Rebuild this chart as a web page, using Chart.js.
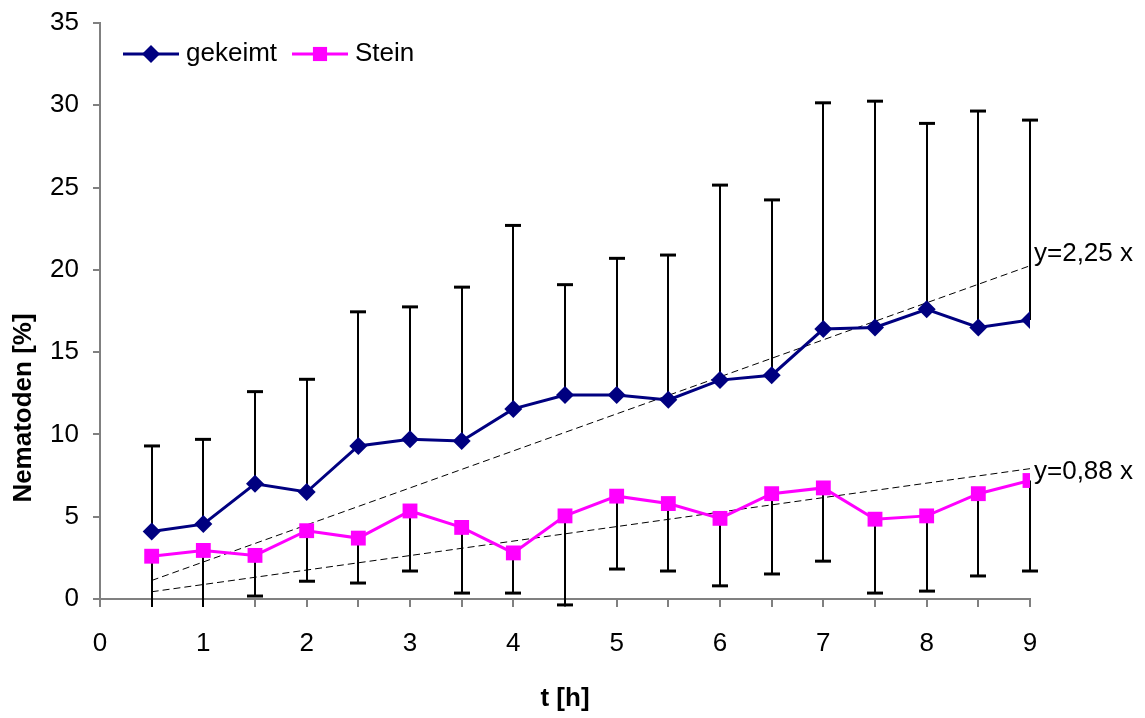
<!DOCTYPE html>
<html>
<head>
<meta charset="utf-8">
<script src="https://cdn.jsdelivr.net/npm/chart.js@4.4.0/dist/chart.umd.min.js"></script>
<style>
  html, body { margin: 0; padding: 0; background: #fff; }
  #wrap { width: 1145px; height: 718px; }
</style>
</head>
<body>
<div id="wrap"><canvas id="chart" width="1145" height="718"></canvas></div>
<script>
// Time points (h)
const times = [0.5, 1, 1.5, 2, 2.5, 3, 3.5, 4, 4.5, 5, 5.5, 6, 6.5, 7, 7.5, 8, 8.5, 9];

// gekeimt: means and upper error-bar ends
const gekeimt = [4.1, 4.55, 7.0, 6.5, 9.3, 9.7, 9.6, 11.55, 12.4, 12.4, 12.1, 13.3, 13.6, 16.4, 16.5, 17.6, 16.5, 16.95];
const gekeimtUpper = [9.3, 9.7, 12.6, 13.35, 17.45, 17.75, 18.95, 22.7, 19.1, 20.7, 20.9, 25.15, 24.25, 30.15, 30.25, 28.9, 29.65, 29.1];

// Stein: means and lower error-bar ends
const stein = [2.6, 2.95, 2.65, 4.15, 3.7, 5.35, 4.35, 2.8, 5.05, 6.25, 5.8, 4.9, 6.4, 6.75, 4.85, 5.05, 6.4, 7.2];
const steinLower = [-1.5, -1.4, 0.18, 1.08, 0.97, 1.7, 0.36, 0.36, -0.36, 1.82, 1.7, 0.8, 1.52, 2.3, 0.36, 0.48, 1.4, 1.7];

// Linear trend lines (endpoints read at t = 0.5 and t = 9)
const trendX = [0.5, 9];
const trendGekeimt = [1.125, 20.25];
const trendStein = [0.44, 7.92];
const trendLabels = ['y=2,25 x', 'y=0,88 x'];

const NAVY = '#000080';
const MAGENTA = '#FF00FF';
const FONT = "'Liberation Sans', Arial, sans-serif";

const toPoints = (xs, ys) => xs.map((x, i) => ({ x: x, y: ys[i] }));

// Error bars: gekeimt upward, Stein downward
const errorBarPlugin = {
    id: 'errorBars',
    beforeDatasetsDraw(chart) {
        const ctx = chart.ctx;
        const xs = chart.scales.x, ys = chart.scales.y;
        const floor = ys.getPixelForValue(0) + 8;
        const cap = 8;
        ctx.save();
        ctx.strokeStyle = '#000';
        ctx.lineWidth = 2;
        times.forEach((t, i) => {
            const px = Math.round(xs.getPixelForValue(t));
            // upper bar
            const y0 = ys.getPixelForValue(gekeimt[i]);
            const y1 = ys.getPixelForValue(gekeimtUpper[i]);
            ctx.beginPath();
            ctx.moveTo(px, y0); ctx.lineTo(px, y1);
            ctx.stroke();
            ctx.lineWidth = 3;
            ctx.beginPath();
            ctx.moveTo(px - cap, y1); ctx.lineTo(px + cap, y1);
            ctx.stroke();
            ctx.lineWidth = 2;
            // lower bar
            const s0 = ys.getPixelForValue(stein[i]);
            let s1 = ys.getPixelForValue(steinLower[i]);
            const clipped = s1 > floor;
            if (clipped) s1 = floor;
            ctx.beginPath();
            ctx.moveTo(px, s0); ctx.lineTo(px, s1);
            ctx.stroke();
            if (!clipped) {
                ctx.lineWidth = 3;
                ctx.beginPath();
                ctx.moveTo(px - cap, s1); ctx.lineTo(px + cap, s1);
                ctx.stroke();
                ctx.lineWidth = 2;
            }
        });
        ctx.restore();
    },
    afterDraw(chart) {
        const ctx = chart.ctx;
        const xs = chart.scales.x, ys = chart.scales.y;
        ctx.save();

        // trend labels
        ctx.fillStyle = '#000';
        ctx.font = '26px ' + FONT;
        ctx.textAlign = 'left';
        ctx.textBaseline = 'middle';
        const lx = xs.getPixelForValue(trendX[1]) + 4;
        ctx.fillText(trendLabels[0], lx, ys.getPixelForValue(trendGekeimt[1]) - 12);
        ctx.fillText(trendLabels[1], lx, ys.getPixelForValue(trendStein[1]) + 3);

        // y axis title
        ctx.save();
        ctx.translate(24, 408);
        ctx.rotate(-Math.PI / 2);
        ctx.font = 'bold 26px ' + FONT;
        ctx.textAlign = 'center';
        ctx.textBaseline = 'middle';
        ctx.fillText('Nematoden [%]', 0, 0);
        ctx.restore();

        // legend
        const items = [
            { label: 'gekeimt', color: NAVY, style: 'rectRot', radius: 9, x: 123 },
            { label: 'Stein', color: MAGENTA, style: 'rect', radius: 10, x: 292 }
        ];
        const ly = 54;
        items.forEach(it => {
            ctx.strokeStyle = it.color;
            ctx.lineWidth = 3;
            ctx.beginPath();
            ctx.moveTo(it.x, ly); ctx.lineTo(it.x + 56, ly);
            ctx.stroke();
            ctx.fillStyle = it.color;
            Chart.helpers.drawPoint(ctx, { pointStyle: it.style, radius: it.radius, borderWidth: 0 }, it.x + 28, ly);
            ctx.fillStyle = '#000';
            ctx.font = '26px ' + FONT;
            ctx.textAlign = 'left';
            ctx.textBaseline = 'middle';
            ctx.fillText(it.label, it.x + 63, ly);
        });
        ctx.restore();
    }
};

const ctx = document.getElementById('chart').getContext('2d');
new Chart(ctx, {
    type: 'line',
    data: {
        datasets: [
            {
                label: 'gekeimt',
                data: toPoints(times, gekeimt),
                borderColor: NAVY,
                backgroundColor: NAVY,
                borderWidth: 3,
                pointStyle: 'rectRot',
                pointRadius: 9,
                pointBorderWidth: 0,
                tension: 0
            },
            {
                label: 'Stein',
                data: toPoints(times, stein),
                borderColor: MAGENTA,
                backgroundColor: MAGENTA,
                borderWidth: 3,
                pointStyle: 'rect',
                pointRadius: 10.5,
                pointBorderWidth: 0,
                tension: 0
            },
            {
                label: 'trend gekeimt',
                data: toPoints(trendX, trendGekeimt),
                borderColor: '#000',
                borderWidth: 1,
                borderDash: [7, 4],
                pointRadius: 0
            },
            {
                label: 'trend Stein',
                data: toPoints(trendX, trendStein),
                borderColor: '#000',
                borderWidth: 1,
                borderDash: [7, 4],
                pointRadius: 0
            }
        ]
    },
    options: {
        responsive: false,
        animation: false,
        devicePixelRatio: 1,
        layout: { padding: { top: 23, right: 115, left: 0, bottom: 0 } },
        plugins: {
            legend: { display: false },
            tooltip: { enabled: false }
        },
        scales: {
            x: {
                type: 'linear',
                min: 0,
                max: 9,
                afterFit: s => { s.height = 119; s.paddingLeft = 0; s.paddingRight = 0; },
                border: { color: '#808080', width: 2 },
                grid: { drawOnChartArea: false, drawTicks: true, tickLength: 8, color: '#808080', lineWidth: 2 },
                ticks: {
                    stepSize: 0.5,
                    autoSkip: false,
                    maxRotation: 0,
                    padding: 21,
                    color: '#000',
                    font: { family: FONT, size: 26 },
                    callback: v => Number.isInteger(v) ? String(v) : ''
                },
                title: {
                    display: true,
                    text: 't [h]',
                    color: '#000',
                    font: { family: FONT, size: 26, weight: 'bold' },
                    padding: { top: 4, bottom: 4 }
                }
            },
            y: {
                min: 0,
                max: 35,
                afterFit: s => { s.width = 100; s.paddingTop = 0; s.paddingBottom = 0; },
                border: { color: '#808080', width: 2 },
                grid: { drawOnChartArea: false, drawTicks: true, tickLength: 7, color: '#808080', lineWidth: 2 },
                ticks: {
                    stepSize: 5,
                    padding: 14,
                    color: '#000',
                    font: { family: FONT, size: 26 }
                }
            }
        }
    },
    plugins: [errorBarPlugin]
});
</script>
</body>
</html>
